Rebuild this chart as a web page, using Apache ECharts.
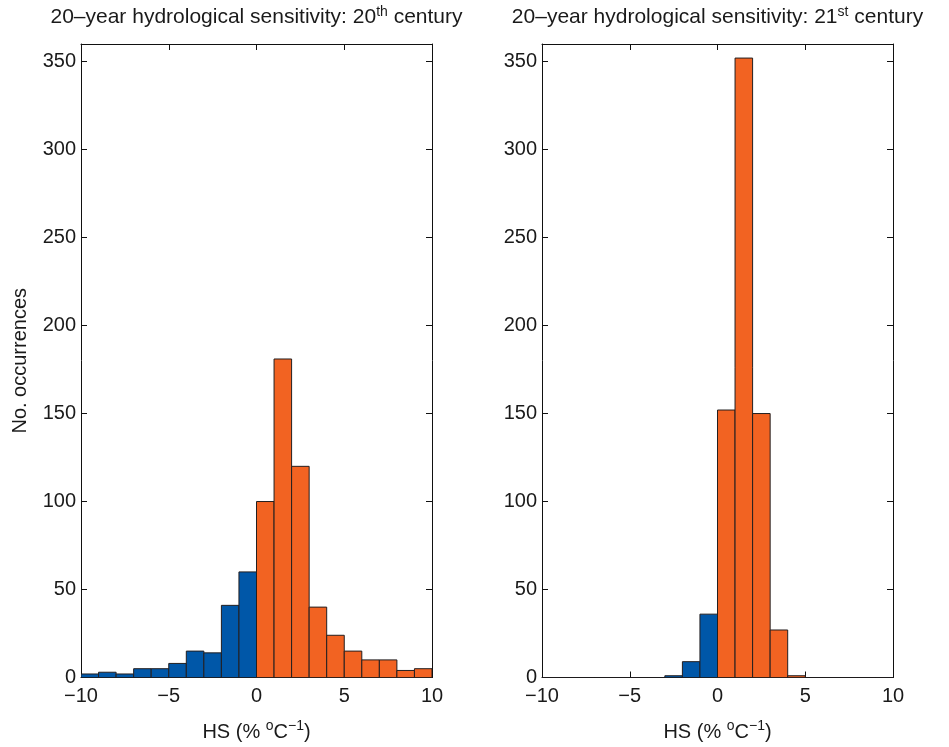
<!DOCTYPE html>
<html><head><meta charset="utf-8">
<script src="https://cdn.jsdelivr.net/npm/echarts@6/dist/echarts.min.js"></script>
<style>html,body{margin:0;padding:0;background:#fff}#c{width:949px;height:747px}</style>
</head><body><div id="c"></div>
<script>
// ---- data ----
var binStarts = [-10,-9,-8,-7,-6,-5,-4,-3,-2,-1,0,1,2,3,4,5,6,7,8,9];
var hs20th = [2,3,2,5,5,8,15,14,41,60,100,181,120,40,24,15,10,10,4,5];
var hs21st = [0,0,0,0,0,0,0,1,9,36,152,352,150,27,1,0,0,0,0,0];
var binWidth = 1;
var titles = ['20\u2013year hydrological sensitivity: 20{sup|th} century',
              '20\u2013year hydrological sensitivity: 21{sup|st} century'];
var xName = 'HS (% {sup|o}C{sup|\u22121})';
var yName = 'No. occurrences';

// ---- style ----
var BLUE = '#0057a8', ORANGE = '#f26322', EDGE = '#231f20';
var FONT = 'Liberation Sans';
var TXT = '#1a1a1a';
var supStyle = {fontSize: 14, fontFamily: FONT, color: TXT, padding: [0,0,11,0]};

var chart = echarts.init(document.getElementById('c'));
var grids = [
  {left: 81, width: 351, top: 43, height: 640},
  {left: 542, width: 351, top: 43, height: 640}
];
var xAxes = [], yAxes = [], series = [];
[hs20th, hs21st].forEach(function(vals, i){
  xAxes.push({type:'value', gridIndex:i, min:-10, max:10, interval:5, position:'bottom',
    axisLine:{show:true, onZero:false, lineStyle:{color:'#111', width:1}},
    axisTick:{inside:true, length:6, lineStyle:{color:'#111'}},
    axisLabel:{fontFamily:FONT, fontSize:20, color:TXT, margin:9,
      formatter:function(v){return v<0 ? '\u2212'+Math.abs(v) : String(v);}},
    splitLine:{show:false},
    name:xName, nameLocation:'middle', nameGap:42,
    nameTextStyle:{fontFamily:FONT, fontSize:20, color:TXT, rich:{sup:supStyle}}
  });
  xAxes.push({type:'value', gridIndex:i, min:-10, max:10, interval:5, position:'top',
    axisLine:{show:true, onZero:false, lineStyle:{color:'#111', width:1}},
    axisTick:{inside:true, length:6, lineStyle:{color:'#111'}},
    axisLabel:{show:false}, splitLine:{show:false},
    name:titles[i], nameLocation:'middle', nameGap:14,
    nameTextStyle:{fontFamily:FONT, fontSize:21, color:TXT, rich:{sup:{fontSize:14, fontFamily:FONT, color:TXT, padding:[0,0,11,0]}}}
  });
  yAxes.push({type:'value', gridIndex:i, min:0, max:360, interval:50, position:'left',
    axisLine:{show:true, onZero:false, lineStyle:{color:'#111', width:1}},
    axisTick:{inside:true, length:6, lineStyle:{color:'#111'}},
    axisLabel:{fontFamily:FONT, fontSize:20, color:TXT, margin:5, showMaxLabel:false,
      formatter:function(v){return v>350 ? '' : String(v);}},
    splitLine:{show:false},
    name: i===0 ? yName : '', nameLocation:'middle', nameGap:51,
    nameTextStyle:{fontFamily:FONT, fontSize:20, color:TXT}
  });
  yAxes.push({type:'value', gridIndex:i, min:0, max:360, interval:50, position:'right',
    axisLine:{show:true, onZero:false, lineStyle:{color:'#111', width:1}},
    axisTick:{inside:true, length:6, lineStyle:{color:'#111'}},
    axisLabel:{show:false}, splitLine:{show:false}
  });
  var data = binStarts.map(function(b, k){ return [b, vals[k]]; });
  series.push({type:'custom', xAxisIndex:2*i, yAxisIndex:2*i, data:data, clip:true, silent:true,
    renderItem:function(params, api){
      var x0 = api.value(0), v = api.value(1);
      var p1 = api.coord([x0, v]);
      var p2 = api.coord([x0 + binWidth, 0]);
      return {type:'rect',
        shape:{x:p1[0], y:p1[1], width:p2[0]-p1[0], height:p2[1]-p1[1]},
        style:{fill: x0 < 0 ? BLUE : ORANGE, stroke: EDGE, lineWidth: 1}};
    }
  });
});
chart.setOption({
  animation:false,
  backgroundColor:'#fff',
  grid:grids, xAxis:xAxes, yAxis:yAxes, series:series
});
</script></body></html>
